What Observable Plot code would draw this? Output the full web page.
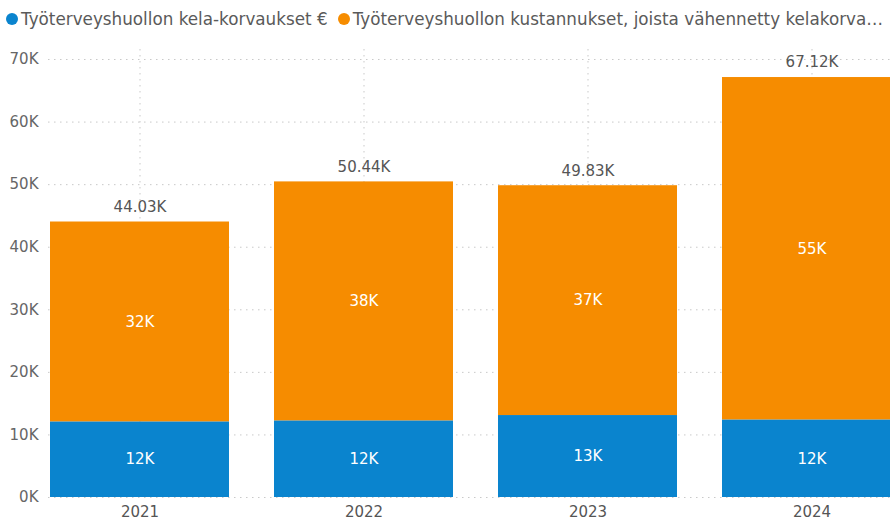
<!DOCTYPE html>
<html>
<head>
<meta charset="utf-8">
<script src="https://cdn.jsdelivr.net/npm/d3@7"></script>
<script src="https://cdn.jsdelivr.net/npm/@observablehq/plot@0.6"></script>
<style>
  html, body { margin: 0; padding: 0; background: #fff; }
  #wrap { width: 890px; height: 520px; overflow: hidden; position: relative; font-family: "DejaVu Sans", sans-serif; }
  #legend { height: 38px; display: flex; align-items: center; white-space: nowrap; font-size: 16.8px; color: #5a5a5a; padding-left: 6px; }
  .item { display: inline-flex; align-items: center; margin-right: 10px; }
  .dot { width: 12px; height: 12px; border-radius: 50%; display: inline-block; margin-right: 3px; }
  #chart svg { overflow: hidden; display: block; }
</style>
</head>
<body>
<div id="wrap">
  <div id="legend"></div>
  <div id="chart"></div>
</div>
<script>
const years = ["2021", "2022", "2023", "2024"];
const kelaKorvaukset = [12090, 12250, 13100, 12400];
const kustannukset = [31940, 38190, 36730, 54720];
const seriesNames = ["Työterveyshuollon kela-korvaukset €", "Työterveyshuollon kustannukset, joista vähennetty kelakorva…"];
const seriesColors = ["#0A84CE", "#F68C00"];
const yTicks = [0, 10000, 20000, 30000, 40000, 50000, 60000, 70000];

const legend = document.getElementById("legend");
seriesNames.forEach((n, i) => {
  const s = document.createElement("span");
  s.className = "item";
  s.innerHTML = `<span class="dot" style="background:${seriesColors[i]}"></span>${n}`;
  legend.appendChild(s);
});

const rows = [];
years.forEach((y, i) => {
  rows.push({year: y, series: seriesNames[0], value: kelaKorvaukset[i]});
  rows.push({year: y, series: seriesNames[1], value: kustannukset[i]});
});
const totals = years.map((y, i) => ({year: y, total: kelaKorvaukset[i] + kustannukset[i]}));

const chart = Plot.plot({
  width: 890,
  height: 482,
  marginLeft: 48,
  marginRight: 0,
  marginTop: 11,
  marginBottom: 23,
  style: {fontFamily: "DejaVu Sans, sans-serif", fontSize: "15px", color: "#666", background: "#fff"},
  x: {domain: years, range: [27.6, 923.6], paddingInner: 0.2, paddingOuter: 0.1, label: null},
  y: {domain: [0, 71600], label: null},
  color: {domain: seriesNames, range: seriesColors},
  marks: [
    Plot.gridY(yTicks, {stroke: "#bbb", strokeOpacity: 0.8, strokeDasharray: "1.5,4.5"}),
    Plot.gridX(years, {stroke: "#bbb", strokeOpacity: 0.8, strokeDasharray: "1.5,4.5"}),
    Plot.barY(rows, Plot.stackY({x: "year", y: "value", fill: "series", order: seriesNames})),
    Plot.text(rows, Plot.stackY({x: "year", y: "value", z: "series", order: seriesNames, text: d => Math.round(d.value / 1000) + "K", fill: "#fff", fontSize: 15})),
    Plot.text(totals, {x: "year", y: "total", text: d => (d.total / 1000).toFixed(2) + "K", dy: -15, fill: "#555", fontSize: 15}),
    Plot.axisY(yTicks, {tickSize: 0, tickPadding: 10, tickFormat: d => d / 1000 + "K", fill: "#666", fontSize: 15}),
    Plot.axisX({tickSize: 0, tickPadding: 9, fill: "#555", fontSize: 15})
  ]
});
document.getElementById("chart").appendChild(chart);
</script>
</body>
</html>
